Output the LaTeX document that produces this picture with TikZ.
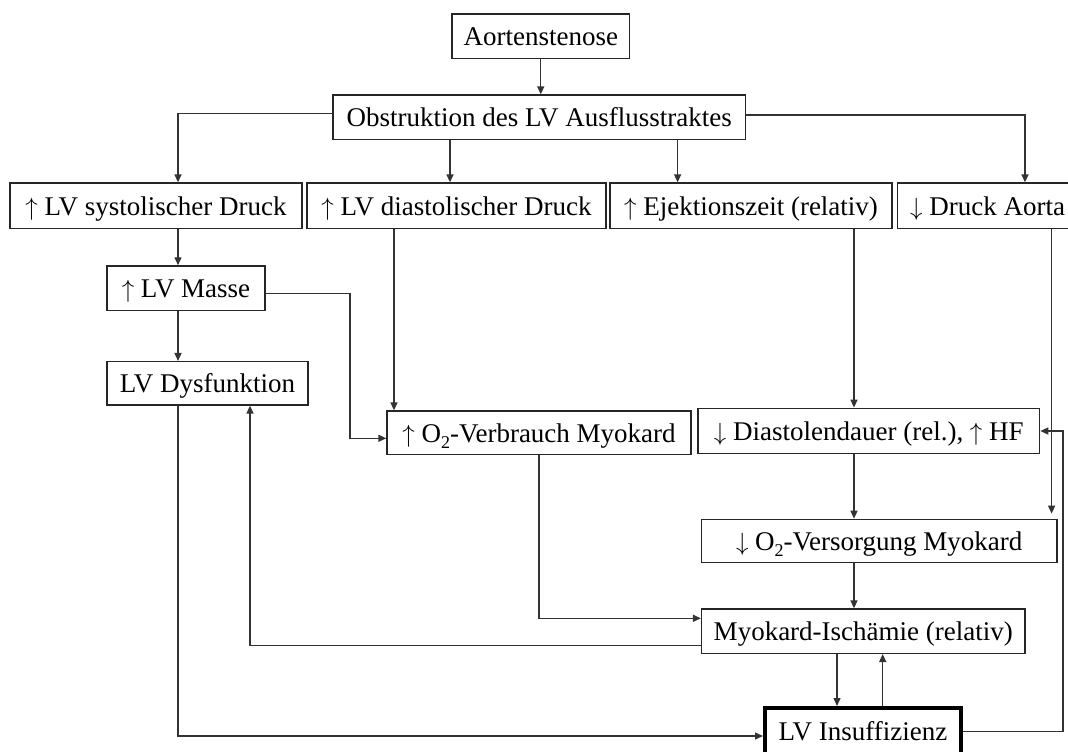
\documentclass[tikz,border=0pt]{standalone}
\usepackage{fontspec}
\setmainfont{Liberation Serif}
\usetikzlibrary{arrows.meta}
\newcommand{\upar}{$\uparrow$}
\newcommand{\dnar}{$\downarrow$}
\newcommand{\subtwo}{\raisebox{-6pt}{\fontsize{18}{18}\selectfont 2}}
\begin{document}
\begin{tikzpicture}[x=1pt,y=-1pt,
  box/.style={draw=black!85, line width=1.4pt, inner xsep=0pt, inner ysep=0pt,
    text height=19pt, text depth=0pt, font=\fontsize{27}{32}\selectfont},
  thickbox/.style={box, line width=4pt, draw=black},
  arr/.style={draw=black!80, line width=1.4pt, -{Triangle[length=8pt,width=7pt]}}]
\useasboundingbox (0,0) rectangle (1068,752);
\clip (0,0) rectangle (1068,752);

% boxes
\node[box, minimum width=177.5pt, minimum height=44.3pt] (aort) at (540.75,36.2) {Aortenstenose};
\node[box, minimum width=412.5pt, minimum height=44.3pt] (obst) at (539.25,117.2) {Obstruktion des LV Ausflusstraktes};
\node[box, minimum width=292pt, minimum height=45.3pt] (sys) at (156,205.7) {\upar{} LV systolischer Druck};
\node[box, minimum width=299pt, minimum height=45.3pt] (dia) at (456.5,205.7) {\upar{} LV diastolischer Druck};
\node[box, minimum width=282pt, minimum height=45.3pt] (ejek) at (751,205.7) {\upar{} Ejektionszeit (relativ)};
\node[box, anchor=west, inner xsep=13pt, minimum height=45.3pt] (druck) at (896.5,205.7) {\dnar{} Druck Aorta\hspace{30pt}};
\node[box, minimum width=158pt, minimum height=44.7pt] (masse) at (186,288.3) {\upar{} LV Masse};
\node[box, minimum width=201pt, minimum height=43.3pt] (dysf) at (207.5,383.3) {LV Dysfunktion};
\node[box, minimum width=304pt, minimum height=43.3pt] (verb) at (539,432.7) {\upar{} O\subtwo-Verbrauch Myokard};
\node[box, minimum width=341.6pt, minimum height=45pt] (diast) at (868.8,430.8) {\dnar{} Diastolendauer (rel.), \upar{} HF};
\node[box, minimum width=355.2pt, minimum height=43.3pt] (vers) at (879.2,541) {\dnar{} O\subtwo-Versorgung Myokard};
\node[box, minimum width=323.4pt, minimum height=44.3pt] (isch) at (863.3,631.2) {Myokard-Ischämie (relativ)};
\node[thickbox, minimum width=196pt, minimum height=46pt] (insuff) at (863,731) {LV Insuffizienz};

% connectors
\draw[arr] (aort.south) -- (aort.south |- obst.north);
\coordinate (xA) at (178,113.3);
\draw[arr] (obst.west |- xA) -| (xA |- sys.north);
\coordinate (xB) at (450,0);
\draw[arr] (xB |- obst.south) -- (xB |- dia.north);
\coordinate (xC) at (677.6,0);
\draw[arr] (xC |- obst.south) -- (xC |- ejek.north);
\coordinate (xD) at (1025,115);
\draw[arr] (obst.east |- xD) -| (xD |- druck.north);

\coordinate (xE) at (178,0);
\draw[arr] (xE |- sys.south) -- (xE |- masse.north);
\draw[arr] (xE |- masse.south) -- (xE |- dysf.north);
\coordinate (xF) at (394,0);
\draw[arr] (xF |- dia.south) -- (xF |- verb.north);
\coordinate (xG) at (854,0);
\draw[arr] (xG |- ejek.south) -- (xG |- diast.north);
\draw[arr] (xG |- diast.south) -- (xG |- vers.north);
\draw[arr] (xG |- vers.south) -- (xG |- isch.north);
\coordinate (xH) at (1051.6,0);
\draw[arr, shorten >=5pt] (xH |- druck.south) -- (xH |- vers.north);

\coordinate (mA) at (350,293.3);
\coordinate (mB) at (350,438.3);
\draw[arr] (masse.east |- mA) -- (mA) -- (mB) -- (verb.west |- mB);

\coordinate (dA) at (178,736);
\draw[arr] (xE |- dysf.south) -- (dA) -- (insuff.west |- dA);
\coordinate (iA) at (250,645.7);
\draw[arr] (isch.west |- iA) -- (iA) -- (iA |- dysf.south);
\coordinate (vA) at (539,618.3);
\draw[arr] (vA |- verb.south) -- (vA) -- (isch.west |- vA);

\coordinate (xI) at (837,0);
\draw[arr] (xI |- isch.south) -- (xI |- insuff.north);
\coordinate (xJ) at (882.7,0);
\draw[arr] (xJ |- insuff.north) -- (xJ |- isch.south);

\coordinate (fA) at (1063,731.7);
\coordinate (fB) at (1063,431);
\draw[arr] (insuff.east |- fA) -- (fA) -- (fB) -- (diast.east |- fB);
\end{tikzpicture}
\end{document}
